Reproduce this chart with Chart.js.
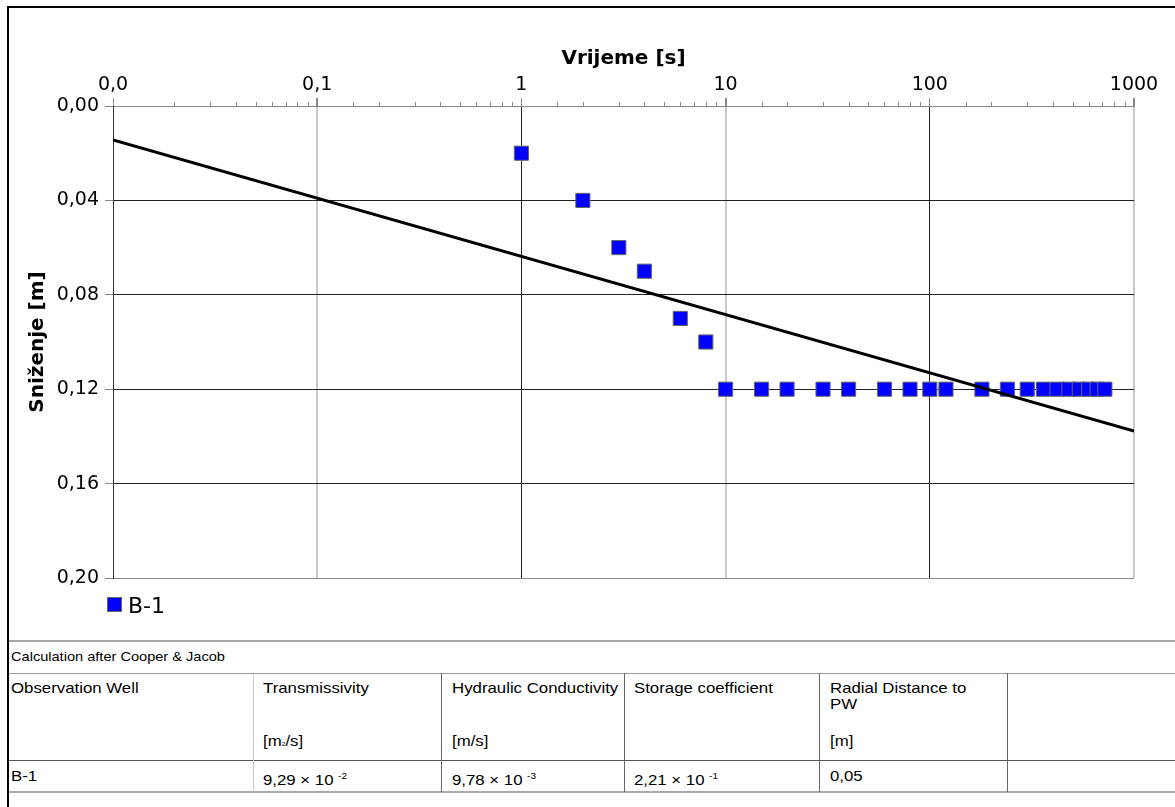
<!DOCTYPE html>
<html>
<head>
<meta charset="utf-8">
<script src="https://cdn.jsdelivr.net/npm/chart.js@4.4.0/dist/chart.umd.min.js"></script>
<style>
  body { margin: 0; background: #fff; }
  #page { position: relative; width: 1175px; height: 807px; overflow: hidden; }
  #chart { position: absolute; left: 0; top: 0; }
  .ln { position: absolute; }
  .tx { position: absolute; height: 20px; line-height: 20px; white-space: nowrap;
        font-family: "Liberation Sans", Arial, sans-serif; font-size: 15px; color: #000;
        transform: scaleX(1.12); transform-origin: left center; }
  .tx sup { font-size: 9px; vertical-align: 6px; margin-left: 4px; }
  #legend { position: absolute; left: 107px; top: 594px; height: 24px; line-height: 24px;
            font-family: "DejaVu Sans", sans-serif; font-size: 22px; color: #000; }
  #legend i { display: inline-block; width: 13px; height: 13px; background: #0000ff;
              border: 1px solid #666; margin-right: 6px; vertical-align: 1px; }
</style>
</head>
<body>
<div id="page">
  <canvas id="chart" width="1175" height="635"></canvas>
  <div id="legend"><i></i>B-1</div>

  <!-- okvir -->
  <div class="ln" style="left:7px;top:6px;width:1168px;height:2px;background:#000"></div>
  <div class="ln" style="left:7px;top:6px;width:2px;height:801px;background:#000"></div>

  <!-- tablica -->
  <div class="ln" style="left:9px;top:640px;width:1166px;height:2px;background:#a8a8a8"></div>
  <div class="ln" style="left:9px;top:673px;width:1166px;height:1px;background:#999"></div>
  <div class="ln" style="left:9px;top:760px;width:1166px;height:1px;background:#555"></div>
  <div class="ln" style="left:9px;top:791px;width:1166px;height:2px;background:#aaa"></div>
  <div class="ln" style="left:253px;top:673px;width:1px;height:119px;background:#c8c8c8"></div>
  <div class="ln" style="left:441px;top:673px;width:1px;height:119px;background:#666"></div>
  <div class="ln" style="left:624px;top:673px;width:1px;height:119px;background:#666"></div>
  <div class="ln" style="left:819px;top:673px;width:1px;height:119px;background:#666"></div>
  <div class="ln" style="left:1007px;top:673px;width:1px;height:119px;background:#666"></div>

  <div class="tx" style="left:11px;top:647px;font-size:13.5px;transform:scaleX(1.08)">Calculation after Cooper &amp; Jacob</div>

  <div class="tx" style="left:11px;top:678px">Observation Well</div>
  <div class="tx" style="left:263px;top:678px">Transmissivity</div>
  <div class="tx" style="left:452px;top:678px">Hydraulic Conductivity</div>
  <div class="tx" style="left:634px;top:678px">Storage coefficient</div>
  <div class="tx" style="left:830px;top:678px">Radial Distance to</div>
  <div class="tx" style="left:830px;top:694px">PW</div>

  <div class="tx" style="left:263px;top:731px">[m<span style="font-size:6px">2</span>/s]</div>
  <div class="tx" style="left:452px;top:731px">[m/s]</div>
  <div class="tx" style="left:830px;top:731px">[m]</div>

  <div class="tx" style="left:11px;top:766px">B-1</div>
  <div class="tx" style="left:263px;top:766px">9,29 × 10<sup>-2</sup></div>
  <div class="tx" style="left:452px;top:766px">9,78 × 10<sup>-3</sup></div>
  <div class="tx" style="left:634px;top:766px">2,21 × 10<sup>-1</sup></div>
  <div class="tx" style="left:830px;top:766px">0,05</div>
</div>

<script>
// mjerenja na B-1: vrijeme [s] i sniženje [m]
const timeS = [1, 2, 3, 4, 6, 8, 10, 15, 20, 30, 40, 60, 80, 100, 120, 180, 240,
               300, 360, 420, 480, 540, 600, 660, 720];
const drawdownM = [0.02, 0.04, 0.06, 0.07, 0.09, 0.10, 0.12, 0.12, 0.12, 0.12, 0.12,
                   0.12, 0.12, 0.12, 0.12, 0.12, 0.12, 0.12, 0.12, 0.12, 0.12, 0.12,
                   0.12, 0.12, 0.12];

// Cooper & Jacob pravac
const fitTime = [0.01, 1000];
const fitDrawdown = [0.0144, 0.1377];

// osi
const xMajorTicks = [0.01, 0.1, 1, 10, 100, 1000];
const xTickLabels = ['0,0', '0,1', '1', '10', '100', '1000'];
const yTicks = [0, 0.04, 0.08, 0.12, 0.16, 0.20];

function majorIndex(v) {
    return xMajorTicks.findIndex(m => Math.abs(Math.log10(v) - Math.log10(m)) < 1e-6);
}

// kratke crtice za međuvrijednosti na gornjoj osi
const minorTicks = {
    id: 'minorTicks',
    afterDraw(chart) {
        const sx = chart.scales.x;
        const ctx = chart.ctx;
        ctx.save();
        ctx.strokeStyle = '#888';
        ctx.lineWidth = 1;
        sx.ticks.forEach(t => {
            if (majorIndex(t.value) >= 0) return;
            const px = Math.round(sx.getPixelForValue(t.value)) + 0.5;
            ctx.beginPath();
            ctx.moveTo(px, sx.bottom - 4);
            ctx.lineTo(px, sx.bottom);
            ctx.stroke();
        });
        ctx.restore();
    }
};

Chart.defaults.font.family = 'DejaVu Sans';
Chart.defaults.color = '#000';

new Chart(document.getElementById('chart'), {
    type: 'scatter',
    data: {
        datasets: [{
            label: 'Cooper & Jacob',
            data: fitTime.map((t, i) => ({ x: t, y: fitDrawdown[i] })),
            showLine: true,
            borderColor: '#000',
            borderWidth: 3,
            pointRadius: 0,
            order: 0
        }, {
            label: 'B-1',
            data: timeS.map((t, i) => ({ x: t, y: drawdownM[i] })),
            pointStyle: 'rect',
            pointRadius: 10,
            pointHoverRadius: 10,
            backgroundColor: '#0000ff',
            borderColor: '#666',
            borderWidth: 1,
            order: 1
        }]
    },
    options: {
        responsive: false,
        animation: false,
        layout: { padding: { left: 22, right: 41, top: 41, bottom: 57 } },
        plugins: {
            legend: { display: false },
            tooltip: { enabled: false }
        },
        scales: {
            x: {
                type: 'logarithmic',
                position: 'top',
                min: 0.01,
                max: 1000,
                afterFit: s => { s.height = 65; },
                title: {
                    display: true,
                    text: 'Vrijeme [s]',
                    font: { size: 20, weight: 'bold' },
                    padding: { top: 6, bottom: 2 }
                },
                ticks: {
                    autoSkip: false,
                    maxRotation: 0,
                    padding: 2,
                    font: { size: 19 },
                    callback: v => {
                        const i = majorIndex(v);
                        return i >= 0 ? xTickLabels[i] : '';
                    }
                },
                border: { color: '#888', width: 1 },
                grid: {
                    tickLength: 8,
                    color: c => {
                        const i = majorIndex(c.tick.value);
                        if (i < 0) return 'rgba(0,0,0,0)';
                        return (Math.round(Math.log10(c.tick.value)) % 2 === 0) ? '#222' : '#c8c8c8';
                    },
                    lineWidth: c => {
                        const i = majorIndex(c.tick.value);
                        return (i >= 0 && Math.round(Math.log10(c.tick.value)) % 2 !== 0) ? 2 : 1;
                    },
                    tickColor: c => majorIndex(c.tick.value) >= 0 ? '#888' : 'rgba(0,0,0,0)'
                }
            },
            y: {
                type: 'linear',
                reverse: true,
                min: 0,
                max: 0.2,
                afterFit: s => { s.width = 91; },
                afterBuildTicks: s => { s.ticks = yTicks.map(v => ({ value: v })); },
                title: {
                    display: true,
                    text: 'Sniženje [m]',
                    font: { size: 20, weight: 'bold' },
                    padding: { top: 4, bottom: 4 }
                },
                ticks: {
                    padding: 6,
                    font: { size: 19 },
                    callback: v => v.toFixed(2).replace('.', ',')
                },
                border: { color: '#333', width: 1 },
                grid: {
                    tickLength: 8,
                    tickColor: '#888',
                    color: c => (c.tick.value < 1e-9 || c.tick.value > 0.2 - 1e-9) ? '#888' : '#222'
                }
            }
        }
    },
    plugins: [minorTicks]
});
</script>
</body>
</html>
